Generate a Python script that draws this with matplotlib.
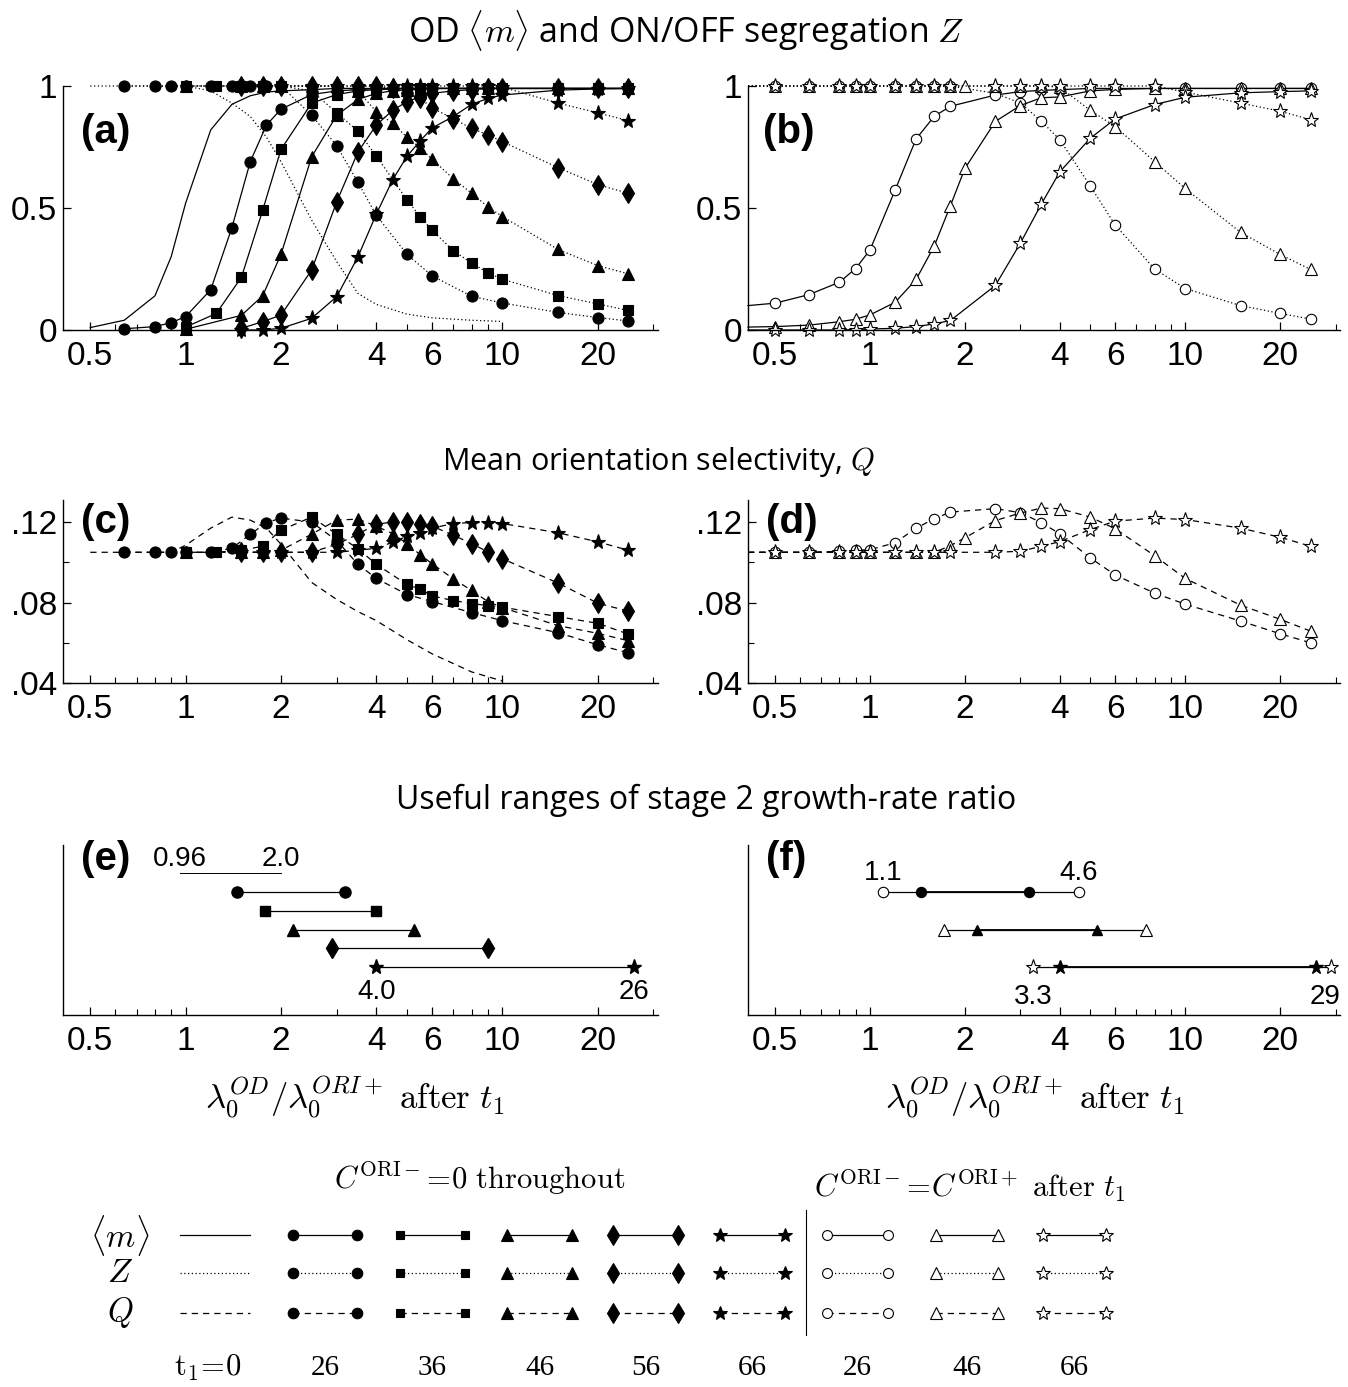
import numpy as np
import matplotlib
matplotlib.use('Agg')
import matplotlib.pyplot as plt

plt.rcParams['font.family'] = ['Liberation Sans', 'DejaVu Sans']
plt.rcParams['mathtext.fontset'] = 'cm'

W, H = 1348, 1387

#%% data
# C^ORI- = 0 throughout, t1 = 0 (no markers)
x0 = [0.5, 0.64, 0.8, 0.9, 1.0, 1.2, 1.4, 1.6, 1.8, 2, 2.5, 3, 3.5, 4, 5, 6, 8, 10]
m0 = [0.01, 0.04, 0.14, 0.3, 0.52, 0.82, 0.925, 0.96, 0.975, 0.98, 0.985, 0.99, 0.99, 0.99, 0.99, 0.99, 0.99, 0.99]
z0 = [1, 1, 1, 1, 1, 0.98, 0.93, 0.875, 0.79, 0.69, 0.45, 0.28, 0.15, 0.105, 0.065, 0.05, 0.04, 0.035]
q0 = [0.105, 0.105, 0.105, 0.105, 0.1085, 0.117, 0.1225, 0.121, 0.117, 0.109, 0.090, 0.0815, 0.0755, 0.071, 0.0615, 0.0545, 0.0455, 0.041]

# t1 = 26 (circles)
x26 = [0.64, 0.8, 0.9, 1.0, 1.2, 1.4, 1.6, 1.8, 2, 2.5, 3, 3.5, 4, 5, 6, 8, 10, 15, 20, 25]
m26 = [0.005, 0.014, 0.03, 0.055, 0.165, 0.42, 0.69, 0.84, 0.905, 0.965, 0.98, 0.985, 0.99, 0.99, 0.99, 0.99, 0.99, 0.99, 0.99, 0.99]
z26 = [1, 1, 1, 1, 1, 1, 1, 1, 1, 0.88, 0.755, 0.605, 0.47, 0.31, 0.222, 0.138, 0.111, 0.072, 0.051, 0.037]
q26 = [0.105, 0.105, 0.105, 0.105, 0.105, 0.107, 0.114, 0.1197, 0.122, 0.12, 0.1108, 0.099, 0.092, 0.084, 0.0805, 0.075, 0.071, 0.065, 0.059, 0.055]

# t1 = 36 (squares)
x36 = [1.0, 1.25, 1.5, 1.75, 2.0, 2.5, 3, 3.5, 4, 5, 5.5, 6, 7, 8, 9, 10, 15, 20, 25]
m36 = [0.012, 0.068, 0.216, 0.49, 0.74, 0.93, 0.965, 0.98, 0.985, 0.99, 0.99, 0.99, 0.99, 0.99, 0.99, 0.99, 0.99, 0.99, 0.99]
z36 = [1, 1, 1, 1, 1, 0.98, 0.89, 0.815, 0.713, 0.533, 0.464, 0.409, 0.325, 0.274, 0.235, 0.208, 0.141, 0.107, 0.080]
q36 = [0.105, 0.105, 0.106, 0.108, 0.116, 0.1225, 0.114, 0.1067, 0.099, 0.089, 0.0867, 0.0833, 0.081, 0.0795, 0.0785, 0.0777, 0.073, 0.0697, 0.0643]

# t1 = 46 (triangles)
x46 = [1.0, 1.5, 1.75, 2.0, 2.5, 3, 3.5, 4, 4.5, 5, 5.5, 6, 7, 8, 9, 10, 15, 20, 25]
m46 = [0.003, 0.06, 0.14, 0.31, 0.71, 0.88, 0.945, 0.97, 0.98, 0.985, 0.985, 0.99, 0.99, 0.99, 0.99, 0.99, 0.99, 0.99, 0.99]
z46 = [1, 1, 1, 1, 1, 1, 0.98, 0.895, 0.847, 0.79, 0.747, 0.70, 0.62, 0.56, 0.505, 0.465, 0.33, 0.264, 0.23]
q46 = [0.105, 0.105, 0.105, 0.106, 0.114, 0.121, 0.1215, 0.118, 0.1143, 0.1093, 0.1038, 0.0993, 0.0918, 0.086, 0.0805, 0.0775, 0.0685, 0.0647, 0.061]

# t1 = 56 (diamonds)
x56 = [1.5, 1.75, 2, 2.5, 3, 3.5, 4, 4.5, 5, 5.5, 6, 7, 8, 9, 10, 15, 20, 25]
m56 = [0.007, 0.034, 0.061, 0.246, 0.526, 0.73, 0.84, 0.90, 0.936, 0.956, 0.97, 0.98, 0.985, 0.99, 0.99, 0.99, 0.99, 0.99]
z56 = [1, 1, 1, 1, 1, 1, 1, 0.99, 0.97, 0.95, 0.91, 0.866, 0.826, 0.80, 0.772, 0.665, 0.596, 0.56]
q56 = [0.105, 0.105, 0.105, 0.105, 0.109, 0.114, 0.119, 0.12, 0.12, 0.119, 0.118, 0.1135, 0.1093, 0.1052, 0.1018, 0.0897, 0.0797, 0.0757]

# t1 = 66 (stars)
x66 = [1.5, 1.75, 2, 2.5, 3, 3.5, 4, 4.5, 5, 5.5, 6, 7, 8, 9, 10, 15, 20, 25]
m66 = [0.0, 0.0, 0.007, 0.048, 0.137, 0.30, 0.475, 0.615, 0.712, 0.775, 0.828, 0.875, 0.925, 0.949, 0.963, 0.983, 0.988, 0.99]
z66 = [1, 1, 1, 1, 1, 1, 1, 1, 1, 1, 1, 1, 1, 1, 0.995, 0.93, 0.89, 0.858]
q66 = [0.105, 0.105, 0.105, 0.105, 0.105, 0.106, 0.107, 0.11, 0.113, 0.1147, 0.117, 0.1193, 0.1198, 0.1198, 0.1193, 0.1147, 0.1102, 0.106]

# C^ORI- = C^ORI+ after t1 (open markers); first point sits on the left axis edge
xbc = [0.41, 0.5, 0.64, 0.8, 0.9, 1.0, 1.2, 1.4, 1.6, 1.8, 2.5, 3, 3.5, 4, 5, 6, 8, 10, 15, 20, 25]
mbc = [0.1, 0.11, 0.145, 0.196, 0.252, 0.328, 0.572, 0.783, 0.876, 0.917, 0.963, 0.977, 0.982, 0.985, 0.99, 0.99, 0.99, 0.99, 0.99, 0.99, 0.99]
zbc = [1, 1, 1, 1, 1, 1, 1, 1, 1, 1, 0.97, 0.93, 0.855, 0.78, 0.59, 0.43, 0.25, 0.17, 0.10, 0.068, 0.045]
qbc = [0.105, 0.105, 0.105, 0.1055, 0.106, 0.1063, 0.1097, 0.117, 0.1217, 0.125, 0.1267, 0.1247, 0.1197, 0.1142, 0.1022, 0.0937, 0.0847, 0.0792, 0.0708, 0.0645, 0.06]

xbt = [0.41, 0.5, 0.64, 0.8, 0.9, 1.0, 1.2, 1.4, 1.6, 1.8, 2.0, 2.5, 3, 3.5, 4, 5, 6, 8, 10, 15, 20, 25]
mbt = [0.012, 0.014, 0.02, 0.034, 0.044, 0.062, 0.113, 0.207, 0.345, 0.51, 0.662, 0.855, 0.92, 0.952, 0.955, 0.98, 0.986, 0.99, 0.99, 0.99, 0.99, 0.99]
zbt = [1, 1, 1, 1, 1, 1, 1, 1, 1, 1, 1, 1, 1, 1, 0.995, 0.9, 0.834, 0.69, 0.58, 0.40, 0.31, 0.248]
qbt = [0.105, 0.105, 0.105, 0.105, 0.105, 0.105, 0.105, 0.105, 0.105, 0.1083, 0.1122, 0.1208, 0.1245, 0.127, 0.1267, 0.1225, 0.1167, 0.1033, 0.092, 0.0787, 0.0717, 0.0658]

xbs = [0.41, 0.5, 0.64, 0.8, 0.9, 1.0, 1.2, 1.4, 1.6, 1.8, 2.5, 3, 3.5, 4, 5, 6, 8, 10, 15, 20, 25]
mbs = [0.0, 0.0, 0.0, 0.0, 0.002, 0.004, 0.007, 0.014, 0.025, 0.039, 0.183, 0.356, 0.517, 0.648, 0.786, 0.865, 0.924, 0.954, 0.972, 0.977, 0.98]
zbs = [1, 1, 1, 1, 1, 1, 1, 1, 1, 1, 1, 1, 1, 1, 1, 1, 1, 0.975, 0.93, 0.897, 0.862]
qbs = [0.105, 0.105, 0.105, 0.105, 0.105, 0.105, 0.105, 0.105, 0.105, 0.105, 0.105, 0.1055, 0.108, 0.1103, 0.1163, 0.1205, 0.122, 0.1213, 0.117, 0.1125, 0.108]

# useful ranges (e) and (f)
e_zero = [0.96, 2.0]
e_lo = [1.45, 1.78, 2.19, 2.89, 4.0]
e_hi = [3.19, 4.0, 5.25, 9.0, 26]
f_open_lo = [1.1, 1.72, 3.3]
f_open_hi = [4.6, 7.5, 29]
f_fill_lo = [1.45, 2.19, 4.0]
f_fill_hi = [3.19, 5.25, 26]

xticks = [0.5, 1, 2, 4, 6, 10, 20]
xticklabels = ['0.5', '1', '2', '4', '6', '10', '20']
xminor = [0.6, 0.7, 0.8, 0.9, 3, 5, 7, 8, 9, 30]
t1_labels = ['26', '36', '46', '56', '66']
t1_open_labels = ['26', '46', '66']

#%% styles
fill_mk = ['o', 's', '^', 'd', '*']
fill_ms = [8, 6.5, 8.5, 10.5, 11]
open_mk = ['o', '^', '*']
open_ms = [7.5, 8.5, 11]
LW = 0.9

fig = plt.figure(figsize=(W / 100, H / 100), dpi=100)


def px_axes(x0_, y0_, x1_, y1_):
    return fig.add_axes([x0_ / W, 1 - y1_ / H, (x1_ - x0_) / W, (y1_ - y0_) / H])


def style(ax, ylim, yticks=None, ylabels=None, yminor=None):
    ax.set_xscale('log')
    ax.set_xlim(0.41, 31)
    ax.set_ylim(*ylim)
    ax.set_xticks(xticks, labels=xticklabels)
    ax.set_xticks(xminor, minor=True)
    ax.xaxis.set_minor_formatter(matplotlib.ticker.NullFormatter())
    if yticks is None:
        ax.set_yticks([])
    else:
        ax.set_yticks(yticks, labels=ylabels)
    if yminor is not None:
        ax.set_yticks(yminor, minor=True)
    for s in ['top', 'right']:
        ax.spines[s].set_visible(False)
    for s in ['left', 'bottom']:
        ax.spines[s].set_linewidth(1.0)
    ax.tick_params(which='major', direction='in', length=6, width=0.9, labelsize=24, pad=8)
    ax.tick_params(which='minor', direction='in', length=4, width=0.8)
    ax.tick_params(axis='y', pad=4)


def series(ax, x, y, ls, mk, ms, face='k', skip_first=False):
    me = slice(1, None) if skip_first else None
    ax.plot(x, y, ls=ls, color='k', lw=LW, marker=mk, ms=ms, mfc=face,
            mec='k', mew=0.8, markevery=me, clip_on=False)


def panel_label(ax, s, x, y):
    ax.text(x, y, s, transform=ax.transAxes, fontsize=29, fontweight='bold',
            ha='left', va='center')


dotted = (0, (1, 2))
dashed = (0, (5, 4))

# ---- (a)
ax_a = px_axes(63, 86, 658, 330)
style(ax_a, (0, 1), [0, 0.5, 1], ['0', '0.5', '1'])
ax_a.plot(x0, m0, '-', color='k', lw=LW, clip_on=False)
ax_a.plot(x0, z0, ls=dotted, color='k', lw=LW, clip_on=False)
filled = [(x26, m26, z26, q26), (x36, m36, z36, q36), (x46, m46, z46, q46),
          (x56, m56, z56, q56), (x66, m66, z66, q66)]
for (xx, mm, zz, qq), mk, ms in zip(filled, fill_mk, fill_ms):
    series(ax_a, xx, zz, dotted, mk, ms)
    series(ax_a, xx, mm, '-', mk, ms)
panel_label(ax_a, '(a)', 0.03, 0.81)

# ---- (b)
ax_b = px_axes(748, 86, 1340, 330)
style(ax_b, (0, 1), [0, 0.5, 1], ['0', '0.5', '1'])
opened = [(xbc, mbc, zbc, qbc), (xbt, mbt, zbt, qbt), (xbs, mbs, zbs, qbs)]
for (xx, mm, zz, qq), mk, ms in zip(opened, open_mk, open_ms):
    series(ax_b, xx, zz, dotted, mk, ms, face='white', skip_first=True)
    series(ax_b, xx, mm, '-', mk, ms, face='white', skip_first=True)
panel_label(ax_b, '(b)', 0.025, 0.81)

# ---- (c)
ax_c = px_axes(63, 500, 658, 683)
style(ax_c, (0.04, 0.131), [0.04, 0.08, 0.12], ['.04', '.08', '.12'], yminor=[0.06, 0.10])
ax_c.plot(x0, q0, ls=dashed, color='k', lw=LW, clip_on=False)
for (xx, mm, zz, qq), mk, ms in zip(filled, fill_mk, fill_ms):
    series(ax_c, xx, qq, dashed, mk, ms)
panel_label(ax_c, '(c)', 0.03, 0.88)

# ---- (d)
ax_d = px_axes(748, 500, 1340, 683)
style(ax_d, (0.04, 0.131), [0.04, 0.08, 0.12], ['.04', '.08', '.12'], yminor=[0.06, 0.10])
for (xx, mm, zz, qq), mk, ms in zip(opened, open_mk, open_ms):
    series(ax_d, xx, qq, dashed, mk, ms, face='white', skip_first=True)
panel_label(ax_d, '(d)', 0.03, 0.88)

# ---- (e)
ax_e = px_axes(63, 845, 658, 1015)
style(ax_e, (7.55, -1.5))
ax_e.plot(e_zero, [0, 0], '-', color='k', lw=0.7)
for i, (lo, hi, mk, ms) in enumerate(zip(e_lo, e_hi, fill_mk, fill_ms)):
    ax_e.plot([lo, hi], [i + 1, i + 1], '-', color='k', lw=LW, marker=mk, ms=ms,
              mfc='k', mec='k', clip_on=False)
ax_e.text(e_zero[0], -0.75, '0.96', ha='center', va='center', fontsize=20)
ax_e.text(e_zero[1], -0.75, '2.0', ha='center', va='center', fontsize=20)
ax_e.text(e_lo[-1], 6.3, '4.0', ha='center', va='center', fontsize=20)
ax_e.text(e_hi[-1], 6.3, '26', ha='center', va='center', fontsize=20)
panel_label(ax_e, '(e)', 0.03, 0.92)

# ---- (f)
ax_f = px_axes(748, 845, 1340, 1015)
style(ax_f, (7.55, -1.5))
for i, mk in enumerate(open_mk):
    row = 2 * i + 1
    ms = open_ms[i]
    fmk = ['o', '^', '*'][i]
    fms = [fill_ms[0], fill_ms[2], fill_ms[4]][i]
    ax_f.plot([f_open_lo[i], f_open_hi[i]], [row, row], '-', color='k', lw=LW,
              marker=mk, ms=ms, mfc='white', mec='k', mew=0.8, clip_on=False)
    ax_f.plot([f_fill_lo[i], f_fill_hi[i]], [row, row], '-', color='k', lw=1.3,
              marker=fmk, ms=fms * 0.9, mfc='k', mec='k', clip_on=False)
ax_f.text(f_open_lo[0], 0.0, '1.1', ha='center', va='center', fontsize=20)
ax_f.text(f_open_hi[0], 0.0, '4.6', ha='center', va='center', fontsize=20)
ax_f.text(f_open_lo[2], 6.6, '3.3', ha='center', va='center', fontsize=20)
ax_f.text(f_open_hi[2] * 0.96, 6.6, '29', ha='center', va='center', fontsize=20)
panel_label(ax_f, '(f)', 0.03, 0.92)

xlab = r'$\lambda_0^{OD}/\lambda_0^{ORI+}\ \mathrm{after}\ t_1$'
fig.text(355 / W, 1 - 1098 / H, xlab, ha='center', va='center', fontsize=25)
fig.text(1035 / W, 1 - 1098 / H, xlab, ha='center', va='center', fontsize=25)

# ---- titles
tfam = ['Open Sans', 'DejaVu Sans']
fig.text(686 / W, 1 - 30 / H, r'OD $\langle m\rangle$ and ON/OFF segregation $Z$',
         family=tfam, fontsize=24.5, ha='center', va='center')
fig.text(658 / W, 1 - 462 / H, r'Mean orientation selectivity, $Q$',
         family=tfam, fontsize=22, ha='center', va='center')
fig.text(706 / W, 1 - 800 / H, 'Useful ranges of stage 2 growth-rate ratio',
         family=tfam, fontsize=23, ha='center', va='center')

# ---- legend block (pixel frame)
ax_l = fig.add_axes([0, 0, 1, 1], zorder=-1)
ax_l.set_xlim(0, W)
ax_l.set_ylim(H, 0)
ax_l.axis('off')

leg_x = [180, 293, 400, 507, 613, 720, 827, 936, 1043]
leg_len = [70, 64, 65, 65, 65, 65, 61, 62, 63]
leg_rows = [1235, 1273, 1313]
leg_ls = ['-', dotted, dashed]
leg_mk = [None] + fill_mk + open_mk
leg_ms = [0] + fill_ms + open_ms
leg_face = ['k'] * 6 + ['white'] * 3
for x, L, mk, ms, fc in zip(leg_x, leg_len, leg_mk, leg_ms, leg_face):
    for y, ls in zip(leg_rows, leg_ls):
        ax_l.plot([x, x + L], [y, y], ls=ls, color='k', lw=LW, marker=mk,
                  ms=ms * 0.95 if mk else 0, mfc=fc, mec='k', mew=0.8)
ax_l.plot([806, 806], [1210, 1335], '-', color='k', lw=0.8)

sfont = dict(ha='center', va='center', fontsize=24)
ax_l.text(120, leg_rows[0], r'$\langle m\rangle$', **sfont)
ax_l.text(120, leg_rows[1], r'$Z$', **sfont)
ax_l.text(120, leg_rows[2], r'$Q$', **sfont)
ax_l.text(480, 1178, r'$C^{\mathrm{ORI-}}\!=\!0\ \mathrm{throughout}$', ha='center', va='center', fontsize=22)
ax_l.text(970, 1186, r'$C^{\mathrm{ORI-}}\!=\!C^{\mathrm{ORI+}}\ \mathrm{after}\ t_1$', ha='center', va='center', fontsize=22)

nfont = dict(ha='center', va='center', fontsize=21, family=['Liberation Serif', 'DejaVu Serif'])
ax_l.text(leg_x[0] + 28, 1368, r'$\mathrm{t}_1\!=\!0$', ha='center', va='center', fontsize=22)
for x, L, lab in zip(leg_x[1:], leg_len[1:], t1_labels + t1_open_labels):
    ax_l.text(x + L / 2, 1368, lab, **nfont)

fig.savefig('out.png', dpi=100)
